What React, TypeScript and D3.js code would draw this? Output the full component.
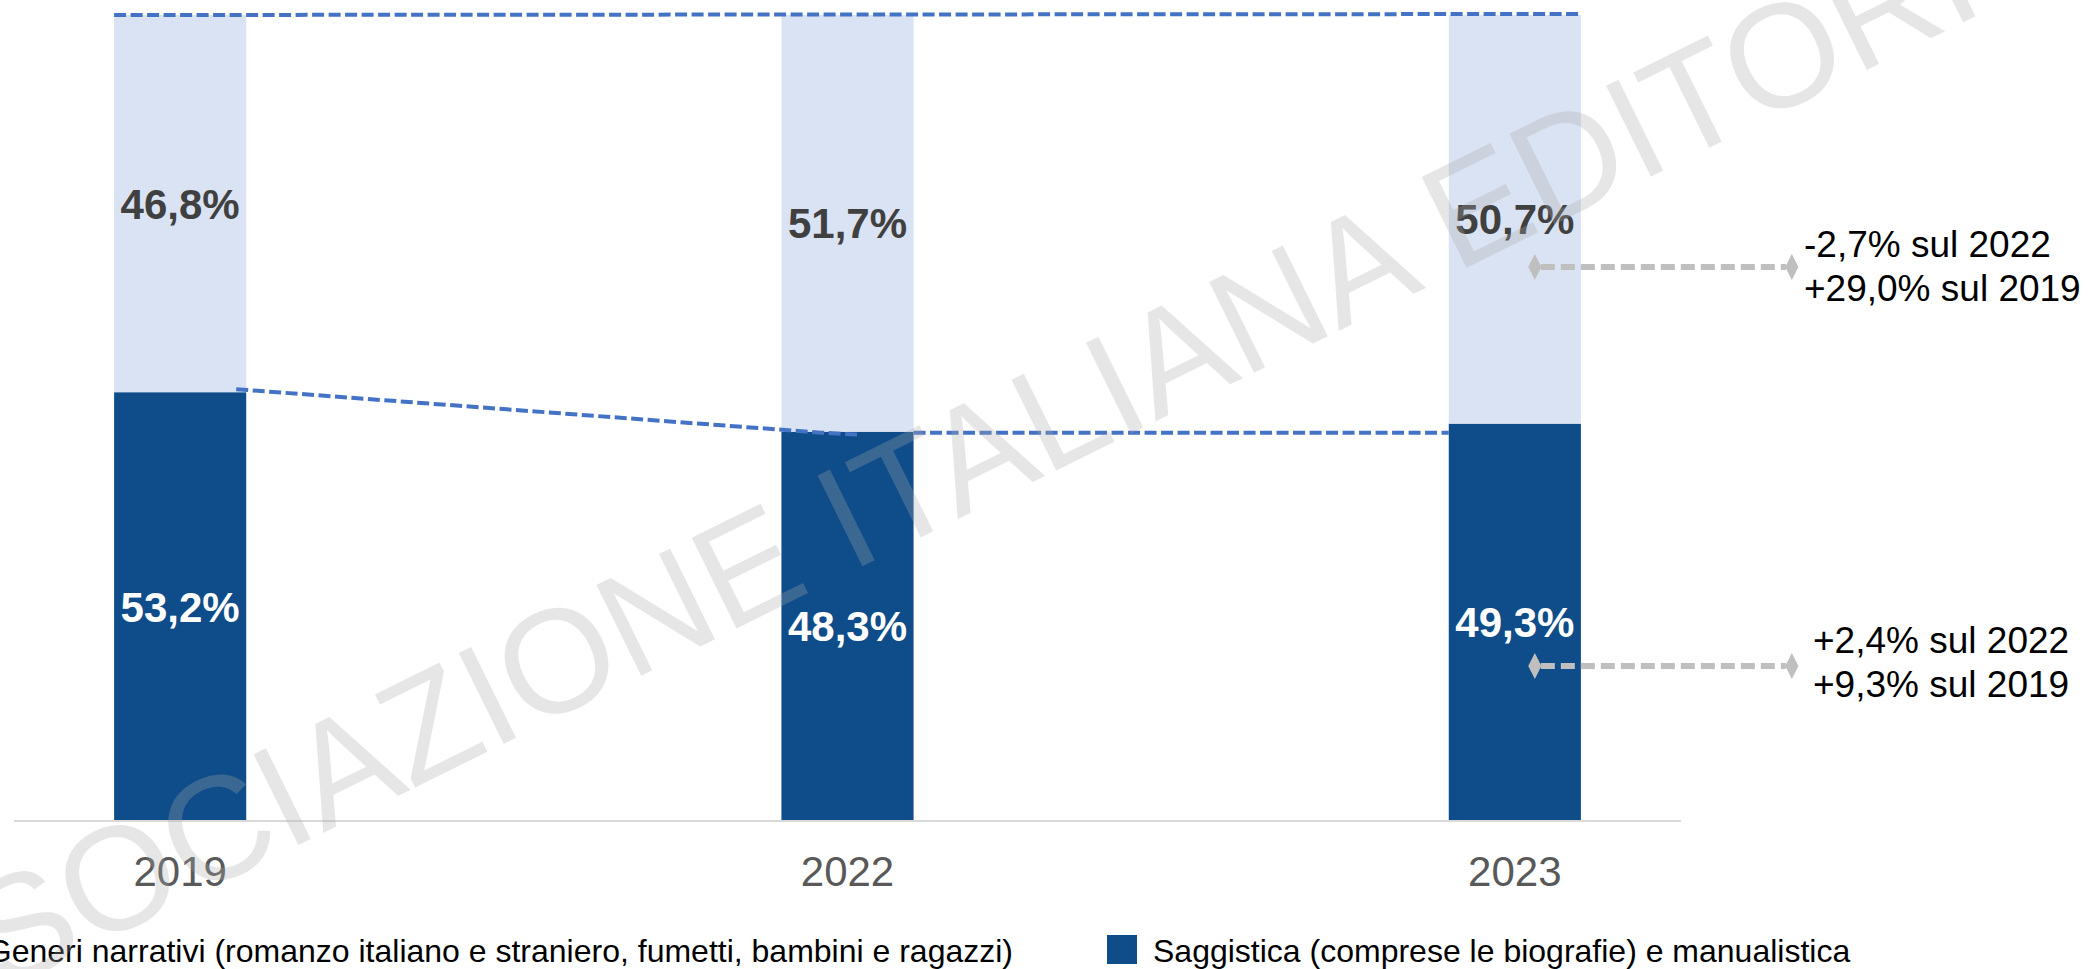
import * as d3 from 'd3';
import React, { useRef, useEffect } from 'react';

// --------------------------------------------------------
// data (shares of the market, %)
// --------------------------------------------------------
const years = ['2019', '2022', '2023'];
const saggistica = [53.2, 48.3, 49.3]; // dark, bottom segment
const narrativa = [46.8, 51.7, 50.7];  // light, top segment

const legendLabels = [
  'Generi narrativi (romanzo italiano e straniero, fumetti, bambini e ragazzi)',
  'Saggistica (comprese le biografie) e manualistica',
];
const notesNarrativa = ['-2,7% sul 2022', '+29,0% sul 2019'];
const notesSaggistica = ['+2,4% sul 2022', '+9,3% sul 2019'];
const watermark = 'ASSOCIAZIONE ITALIANA EDITORI';

const W = 2088;
const H = 969;
const FONT = '"Liberation Sans", Arial, Helvetica, sans-serif';
const DARK = '#0F4C8A';
const LIGHT = '#DAE3F3';
const LINE_BLUE = '#4472C4';
const ARROW_GRAY = '#BFBFBF';

const fmt = (v: number) => v.toFixed(1).replace('.', ',') + '%';

function App() {
  const svgRef = useRef<SVGSVGElement>(null);

  useEffect(() => {
    const svg = d3.select(svgRef.current);
    svg.selectAll('*').remove();

    const rows = years.map((year, i) => ({ year, sag: saggistica[i], nar: narrativa[i] }));

    // scales - band range is also the extent of the baseline
    const x = d3.scaleBand<string>()
      .domain(years)
      .range([14, 1681])
      .paddingInner(0.802)
      .paddingOuter(0.15);
    const bw = x.bandwidth();
    const y = d3.scaleLinear().domain([0, 100]).range([821, 15]);

    const series = d3.stack<any>().keys(['sag', 'nar'])(rows);
    const fills: Record<string, string> = { sag: DARK, nar: LIGHT };
    const labelFill: Record<string, string> = { sag: '#FFFFFF', nar: '#404040' };

    // stacked bars
    const layers = svg.append('g')
      .selectAll('g')
      .data(series)
      .join('g')
      .attr('fill', (s) => fills[s.key]);

    layers.selectAll('rect')
      .data((s) => s)
      .join('rect')
      .attr('x', (d: any) => x(d.data.year)!)
      .attr('width', bw)
      .attr('y', (d) => y(d[1]))
      .attr('height', (d) => y(d[0]) - y(d[1]));

    // baseline
    svg.append('line')
      .attr('x1', x.range()[0])
      .attr('x2', x.range()[1])
      .attr('y1', y(0))
      .attr('y2', y(0))
      .attr('stroke', '#D9D9D9')
      .attr('stroke-width', 2);

    // dashed connector lines
    const line = d3.line<[number, number]>();
    const dashed = (pts: [number, number][]) =>
      svg.append('path')
        .attr('d', line(pts))
        .attr('fill', 'none')
        .attr('stroke', LINE_BLUE)
        .attr('stroke-width', 4)
        .attr('stroke-dasharray', '12 4.5');

    dashed([[x(years[0])!, y(100)], [x(years[2])! + bw, y(100) - 1]]);
    dashed([
      [x(years[0])! + bw - 10, y(saggistica[0]) - 3],
      [x(years[1])! + bw * 0.3, y(saggistica[1]) + 1],
      [x(years[1])! + bw * 0.6, y(saggistica[1]) + 3],
    ]);
    dashed([[x(years[1])! + bw, y(saggistica[1]) + 1], [x(years[2])!, y(saggistica[1]) + 1]]);

    // value labels in the bars
    layers.selectAll('text')
      .data((s) => s.map((d) => ({ d, key: s.key })))
      .join('text')
      .attr('x', (o: any) => x(o.d.data.year)! + bw / 2)
      .attr('y', (o: any) => (y(o.d[0]) + y(o.d[1])) / 2)
      .attr('dy', '0.36em')
      .attr('text-anchor', 'middle')
      .attr('font-family', FONT)
      .attr('font-weight', 'bold')
      .attr('font-size', 42)
      .attr('fill', (o: any) => labelFill[o.key])
      .text((o: any) => fmt(o.d[1] - o.d[0]));

    // x axis labels
    const xAxis = svg.append('g')
      .attr('transform', `translate(0,${y(0)})`)
      .call(d3.axisBottom(x).tickSize(0).tickPadding(35));
    xAxis.select('.domain').remove();
    xAxis.selectAll('text')
      .attr('font-family', FONT)
      .attr('font-size', 42)
      .attr('fill', '#595959');

    // change annotations with diamond-ended dashed arrows
    const arrowX0 = x(years[2])! + bw / 2 + 20;
    const arrowX1 = arrowX0 + 257;
    const notes = [
      { lines: notesNarrativa, ay: 267, ty: 257, tx: 1804 },
      { lines: notesSaggistica, ay: 666, ty: 653, tx: 1813 },
    ];
    const diamond = d3.symbol().type(d3.symbolDiamond).size(150);
    notes.forEach((n) => {
      svg.append('line')
        .attr('x1', arrowX0 + 6)
        .attr('x2', arrowX1 - 6)
        .attr('y1', n.ay)
        .attr('y2', n.ay)
        .attr('stroke', ARROW_GRAY)
        .attr('stroke-width', 6)
        .attr('stroke-dasharray', '14 6');
      [arrowX0, arrowX1].forEach((ax) => {
        svg.append('path')
          .attr('d', diamond())
          .attr('transform', `translate(${ax},${n.ay}) scale(1,1.15)`)
          .attr('fill', ARROW_GRAY);
      });
      const t = svg.append('text')
        .attr('font-family', FONT)
        .attr('font-size', 37)
        .attr('fill', '#000000');
      n.lines.forEach((l, i) => {
        t.append('tspan')
          .attr('x', n.tx)
          .attr('y', n.ty + i * 44)
          .text(l);
      });
    });

    // legend
    const legend = svg.append('g').attr('font-family', FONT).attr('font-size', 32).attr('fill', '#000');
    const first = legend.append('text')
      .attr('x', 1013)
      .attr('y', 962)
      .attr('text-anchor', 'end')
      .text(legendLabels[0]);
    const firstWidth = (first.node() as SVGTextElement).getComputedTextLength();
    legend.append('rect')
      .attr('x', 1013 - firstWidth - 46)
      .attr('y', 935)
      .attr('width', 30)
      .attr('height', 29)
      .attr('fill', LIGHT);
    legend.append('rect')
      .attr('x', 1107)
      .attr('y', 935)
      .attr('width', 30)
      .attr('height', 29)
      .attr('fill', DARK);
    legend.append('text')
      .attr('x', 1153)
      .attr('y', 962)
      .text(legendLabels[1]);

    // watermark overlay
    svg.append('text')
      .attr('transform', 'translate(-175,1079) rotate(-26.3)')
      .attr('font-family', FONT)
      .attr('font-size', 147)
      .attr('fill', '#A8A8A8')
      .attr('fill-opacity', 0.29)
      .text(watermark);
  }, []);

  return (
    <div style={{ position: 'absolute', left: 0, top: 0, width: W, height: H, background: '#fff' }}>
      <svg ref={svgRef} width={W} height={H} style={{ display: 'block' }} />
    </div>
  );
}

export default App;
